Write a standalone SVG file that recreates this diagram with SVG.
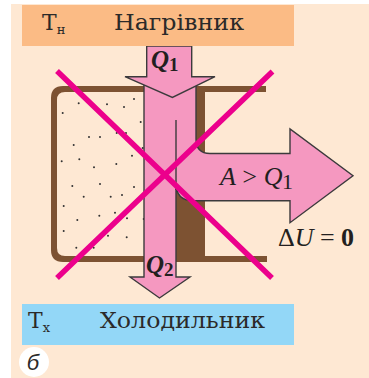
<svg xmlns="http://www.w3.org/2000/svg" width="369" height="378" viewBox="0 0 369 378">
<style>
.t{font-family:"DejaVu Serif","Liberation Serif",serif;fill:#2b2a29}
.m{font-family:"Liberation Serif",serif;fill:#231f20}
.a{fill:#f598c0;stroke:#3c3a3c;stroke-width:1.4;stroke-linejoin:miter}
.x{stroke:#ec008c;stroke-width:5.5;fill:none}
.d{fill:#333}
</style>
<rect width="369" height="378" fill="#fff"/>
<rect x="11" y="4" width="358" height="374" fill="#fee8d3"/>
<g id="wall" fill="#7d5232">
<path d="M266 86H63Q51 86 51 98V250Q51 262 63 262H267V256H65Q57 256 57 248V100Q57 92 65 92H266Z"/>
<rect x="196" y="86" width="9" height="171"/>
<rect x="176" y="190" width="29" height="67"/>
</g>
<g id="particles" class="d">
<circle cx="78.700" cy="103.300" r="1"/><circle cx="107" cy="104.300" r="1"/><circle cx="124" cy="107" r="1"/><circle cx="134" cy="99" r="1"/><circle cx="62.700" cy="113" r="1"/><circle cx="140.700" cy="122" r="1"/><circle cx="116.700" cy="133" r="1"/><circle cx="126" cy="133" r="1"/><circle cx="89" cy="137" r="1"/><circle cx="100" cy="137" r="1"/><circle cx="73.700" cy="145" r="1"/><circle cx="142.700" cy="148" r="1"/><circle cx="132" cy="155.700" r="1"/><circle cx="79.300" cy="159.300" r="1"/><circle cx="61.700" cy="161.300" r="1"/><circle cx="116.300" cy="164" r="1"/><circle cx="94" cy="167.300" r="1"/><circle cx="100" cy="184" r="1"/><circle cx="72.300" cy="186" r="1"/><circle cx="134" cy="187" r="1"/><circle cx="122" cy="195" r="1"/><circle cx="83.700" cy="196.700" r="1"/><circle cx="110.700" cy="196.700" r="1"/><circle cx="63.700" cy="206" r="1"/><circle cx="77.300" cy="220" r="1"/><circle cx="99.300" cy="215.700" r="1"/><circle cx="115" cy="212.700" r="1"/><circle cx="127" cy="218.300" r="1"/><circle cx="143.700" cy="219" r="1"/><circle cx="63.700" cy="231" r="1"/><circle cx="108" cy="235.700" r="1"/><circle cx="126.700" cy="237.300" r="1"/><circle cx="76.300" cy="247.700" r="1"/><circle cx="93.700" cy="247.700" r="1"/>
</g>
<g id="connectors">
<path class="a" d="M144 277V85H196V139Q196 153.500 210 153.500H290V129L353 175.700L290 222.700V200.700H193Q176 200.700 176 183V277H190L159.500 298L130 277Z"/>
<path d="M176 120V190" fill="none" stroke="#3c3a3c" stroke-width="1.400"/>
<path class="a" d="M146.700 46V76.700H125L172.400 97.500L215 76.700H191.700V46Z"/>
</g>
<g id="heater">
<rect x="22" y="5" width="272" height="41" fill="#fbbb85"/>
<text class="t" x="42" y="30" font-size="22">Т<tspan font-size="13" dy="4">н</tspan></text>
<text class="t" x="114" y="30" font-size="22" textLength="130" lengthAdjust="spacingAndGlyphs">Нагрівник</text>
</g>
<g id="cooler">
<rect x="22" y="304" width="272" height="41" fill="#93d7f7"/>
<text class="t" x="28" y="328" font-size="22">Т<tspan font-size="13" dy="4">х</tspan></text>
<text class="t" x="100" y="328" font-size="22" textLength="165" lengthAdjust="spacingAndGlyphs">Холодильник</text>
</g>
<g id="cross">
<path class="x" d="M57 71L272 278M272.500 71.500L57 278"/>
</g>
<g id="labels">
<text class="m" x="151" y="68" font-size="25" font-style="italic" font-weight="bold">Q<tspan font-style="normal" font-size="19" dy="3">1</tspan></text>
<text class="m" x="146" y="273" font-size="25" font-style="italic" font-weight="bold">Q<tspan font-style="normal" font-size="19" dy="3">2</tspan></text>
<text class="m" x="220" y="185" font-size="26" font-style="italic" textLength="73">A &gt; Q<tspan font-style="normal" font-size="22" dy="4">1</tspan></text>
<text class="m" x="278" y="246" font-size="26" textLength="76">Δ<tspan font-style="italic">U</tspan> = <tspan font-weight="bold">0</tspan></text>
</g>
<g id="panel-label">
<circle cx="34" cy="362" r="15" fill="#fff"/>
<text x="33" y="370" text-anchor="middle" font-size="22" font-style="italic" font-family="Liberation Sans,sans-serif" fill="#2b2a29">б</text>
</g>
</svg>
